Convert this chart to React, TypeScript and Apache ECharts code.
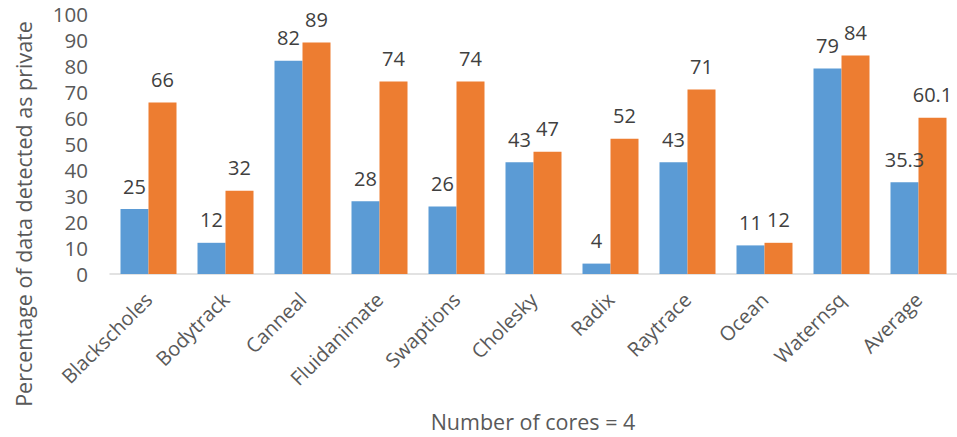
import React, { useEffect, useRef } from "react";
import * as echarts from "echarts";

const categories = [
  "Blackscholes", "Bodytrack", "Canneal", "Fluidanimate", "Swaptions",
  "Cholesky", "Radix", "Raytrace", "Ocean", "Waternsq", "Average",
];
const seriesBlue = [25, 12, 82, 28, 26, 43, 4, 43, 11, 79, 35.3];
const seriesOrange = [66, 32, 89, 74, 74, 47, 52, 71, 12, 84, 60.1];

const FONT = "'Open Sans', 'DejaVu Sans', sans-serif";

export default function App() {
  const ref = useRef<HTMLDivElement>(null);
  useEffect(() => {
    if (!ref.current) return;
    const chart = echarts.init(ref.current, undefined, { renderer: "svg" });
    const label = {
      show: true,
      position: "top" as const,
      distance: 13,
      color: "#404040",
      fontFamily: FONT,
      fontSize: 20,
    };
    chart.setOption({
      animation: false,
      backgroundColor: "#ffffff",
      grid: { left: 110, right: 0, top: 14, bottom: 163 },
      xAxis: {
        type: "category",
        data: categories,
        axisLine: { lineStyle: { color: "#D9D9D9", width: 1.5 } },
        axisTick: { show: false },
        axisLabel: {
          rotate: 45,
          interval: 0,
          margin: 22,
          color: "#595959",
          fontFamily: FONT,
          fontSize: 20,
        },
      },
      yAxis: {
        type: "value",
        min: 0,
        max: 100,
        interval: 10,
        axisLine: { show: false },
        axisTick: { show: false },
        splitLine: { show: false },
        axisLabel: {
          margin: 22,
          color: "#595959",
          fontFamily: FONT,
          fontSize: 20.5,
        },
      },
      series: [
        {
          type: "bar",
          data: seriesBlue,
          barWidth: 28,
          barGap: "0%",
          itemStyle: { color: "#5B9BD5" },
          label,
        },
        {
          type: "bar",
          data: seriesOrange,
          barWidth: 28,
          barGap: "0%",
          itemStyle: { color: "#ED7D31" },
          label,
        },
      ],
      graphic: [
        {
          type: "text",
          x: 23,
          y: 214,
          rotation: Math.PI / 2,
          style: {
            text: "Percentage of data detected as private",
            fill: "#595959",
            font: `21.5px ${FONT}`,
            textAlign: "center",
            textVerticalAlign: "middle",
          },
        },
        {
          type: "text",
          x: 533,
          y: 421,
          style: {
            text: "Number of cores = 4",
            fill: "#595959",
            font: `21.5px ${FONT}`,
            textAlign: "center",
            textVerticalAlign: "middle",
          },
        },
      ],
    });
    return () => chart.dispose();
  }, []);
  return (
    <div
      ref={ref}
      style={{ position: "fixed", left: 0, top: 0, width: 957, height: 437 }}
    />
  );
}
